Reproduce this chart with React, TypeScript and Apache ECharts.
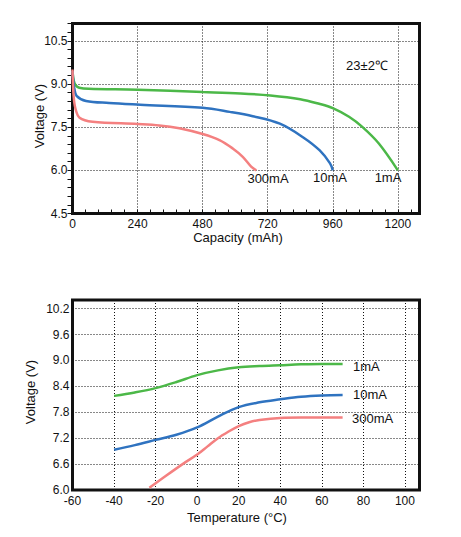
import React, { useEffect, useRef } from "react";
import * as echarts from "echarts";

// ---- Top chart: discharge curves (capacity mAh -> voltage V) ----
const cap1mA = [0, 5, 12, 25, 60, 240, 480, 620, 730, 840, 910, 960, 1020, 1070, 1130, 1200];
const volt1mA = [9.45, 9.1, 8.95, 8.87, 8.83, 8.8, 8.72, 8.67, 8.6, 8.47, 8.31, 8.16, 7.86, 7.5, 6.93, 6.0];
const cap10mA = [0, 3, 7, 15, 50, 135, 250, 480, 580, 665, 765, 850, 912, 950, 960];
const volt10mA = [9.45, 9.1, 8.83, 8.59, 8.41, 8.34, 8.28, 8.17, 8.03, 7.88, 7.62, 7.15, 6.69, 6.24, 6.0];
const cap300mA = [0, 4, 11, 26, 74, 240, 320, 394, 480, 542, 591, 628, 659, 678];
const volt300mA = [9.5, 8.59, 8.14, 7.83, 7.69, 7.61, 7.56, 7.46, 7.26, 7.05, 6.76, 6.47, 6.13, 6.0];

// ---- Bottom chart: voltage vs temperature ----
const tempGB = [-40, -30, -20, -10, 0, 10, 20, 30, 40, 50, 60, 70];
const tVolt1mA = [8.18, 8.26, 8.36, 8.5, 8.66, 8.77, 8.84, 8.87, 8.89, 8.91, 8.92, 8.92];
const tVolt10mA = [6.93, 7.04, 7.16, 7.28, 7.45, 7.7, 7.92, 8.03, 8.1, 8.16, 8.19, 8.2];
const tempRed = [-23, -15, -7, 0, 5, 10, 15, 20, 25, 30, 40, 50, 60, 70];
const tVolt300mA = [6.05, 6.33, 6.6, 6.82, 7.01, 7.2, 7.35, 7.48, 7.57, 7.62, 7.67, 7.68, 7.68, 7.68];

const seriesNames = ["1mA", "10mA", "300mA"];
const colors = ["#4cb848", "#2f73c0", "#f48080"];

const zip = (xs: number[], ys: number[]) => xs.map((x, i) => [x, ys[i]]);

const FONT = '"Liberation Sans", Arial, sans-serif';
const TXT = "#111";

export default function App() {
  const ref = useRef<HTMLDivElement>(null);
  useEffect(() => {
    document.body.style.margin = "0";
    const chart = echarts.init(ref.current!, undefined, { renderer: "svg" });
    const splitLine = { show: true, lineStyle: { color: "#111", type: [1, 2], width: 1 } };
    const gridBase = {
      show: true,
      borderColor: "#111",
      borderWidth: 3,
      backgroundColor: "transparent",
      left: 72.5,
      width: 347,
      height: 190,
    };
    const lineSeries = (name: string, data: number[][], color: string, axisIdx: number) => ({
      name,
      type: "line",
      xAxisIndex: axisIdx,
      yAxisIndex: axisIdx,
      data,
      showSymbol: false,
      smooth: 0.35,
      lineStyle: { color, width: 2.5 },
      itemStyle: { color },
      z: 5,
    });
    const text = (t: string, x: number, y: number, size: number, align = "center", rotation = 0) => ({
      type: "text",
      x,
      y,
      rotation,
      z: 10,
      style: {
        text: t,
        fill: TXT,
        font: `${size}px ${FONT}`,
        textAlign: align,
        textVerticalAlign: "middle",
        align,
        verticalAlign: "middle",
      },
    });
    const plain = (v: number) => String(v);
    chart.setOption({
      animation: false,
      textStyle: { fontFamily: FONT },
      grid: [
        { ...gridBase, top: 23.5 },
        { ...gridBase, top: 300 },
      ],
      xAxis: [
        {
          gridIndex: 0,
          type: "value",
          min: 0,
          max: 1280,
          interval: 240,
          axisLine: { show: false },
          axisTick: { show: false },
          axisLabel: { margin: 4, fontSize: 12, color: TXT, showMaxLabel: false, formatter: plain },
          splitLine,
        },
        {
          gridIndex: 0,
          type: "value",
          position: "bottom",
          min: 0,
          max: 1280,
          interval: 48,
          axisLine: { show: false },
          axisTick: { show: true, inside: true, length: 4, lineStyle: { color: "#111", width: 1 } },
          axisLabel: { show: false },
          splitLine: { show: false },
        },
        {
          gridIndex: 1,
          type: "value",
          min: -60,
          max: 107,
          interval: 20,
          axisLine: { show: false },
          axisTick: { show: false },
          axisLabel: { margin: 5, fontSize: 12, color: TXT, showMaxLabel: false, formatter: plain },
          splitLine,
        },
      ],
      yAxis: [
        {
          gridIndex: 0,
          type: "value",
          min: 4.5,
          max: 11.1,
          interval: 1.5,
          axisLine: { show: false },
          axisTick: { show: false },
          axisLabel: {
            margin: 5,
            fontSize: 12,
            color: TXT,
            showMaxLabel: false,
            formatter: (v: number) => v.toFixed(1),
          },
          splitLine,
        },
        {
          gridIndex: 0,
          type: "value",
          position: "left",
          min: 4.5,
          max: 11.1,
          interval: 0.3,
          axisLine: { show: false },
          axisTick: { show: true, inside: false, length: 5, lineStyle: { color: "#111", width: 1 } },
          axisLabel: { show: false },
          splitLine: { show: false },
        },
        {
          gridIndex: 1,
          type: "value",
          min: 6.0,
          max: 10.4,
          interval: 0.6,
          axisLine: { show: false },
          axisTick: { show: false },
          axisLabel: {
            margin: 3,
            fontSize: 12,
            color: TXT,
            showMaxLabel: false,
            formatter: (v: number) => v.toFixed(1),
          },
          splitLine,
        },
      ],
      series: [
        lineSeries(seriesNames[0], zip(cap1mA, volt1mA), colors[0], 0),
        lineSeries(seriesNames[1], zip(cap10mA, volt10mA), colors[1], 0),
        lineSeries(seriesNames[2], zip(cap300mA, volt300mA), colors[2], 0),
        lineSeries(seriesNames[0], zip(tempGB, tVolt1mA), colors[0], 2),
        lineSeries(seriesNames[1], zip(tempGB, tVolt10mA), colors[1], 2),
        lineSeries(seriesNames[2], zip(tempRed, tVolt300mA), colors[2], 2),
      ],
      graphic: [
        text("Voltage (V)", 39, 116, 13, "center", Math.PI / 2),
        text("Capacity (mAh)", 238, 237, 13),
        text("23±2℃", 367, 65, 13),
        text("300mA", 268, 178, 13),
        text("10mA", 330, 177, 13),
        text("1mA", 388, 177, 13),
        text("Voltage (V)", 30, 392, 13, "center", Math.PI / 2),
        text("Temperature (°C)", 237, 517, 13),
        text("1mA", 353, 366, 13, "left"),
        text("10mA", 353, 394, 13, "left"),
        text("300mA", 352, 418, 13, "left"),
      ],
    });
    return () => chart.dispose();
  }, []);
  return <div ref={ref} style={{ width: 461, height: 537 }} />;
}
